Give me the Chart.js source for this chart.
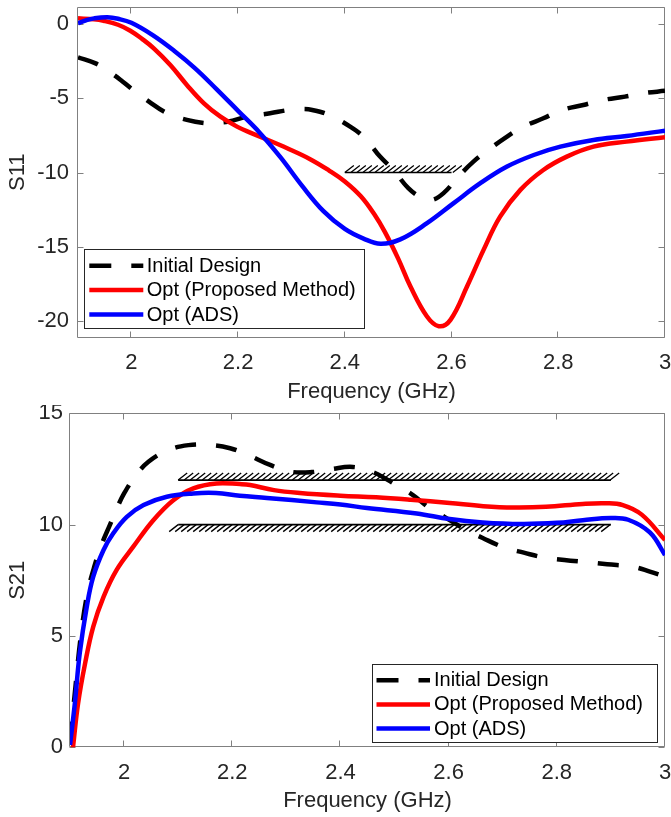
<!DOCTYPE html>
<html><head><meta charset="utf-8">
<script src="https://cdn.jsdelivr.net/npm/chart.js@4.4.1/dist/chart.umd.min.js"></script>
<style>
html,body{margin:0;padding:0;background:#fff;}
#wrap{position:relative;width:671px;height:817px;overflow:hidden;}
canvas{position:absolute;left:0;display:block;}
</style></head><body>
<div id="wrap">
<canvas id="c1" width="671" height="405" style="top:0"></canvas>
<canvas id="c2" width="671" height="412" style="top:405px"></canvas>
</div>
<script>
// ---------------- data ----------------
const legendLabels = ['Initial Design', 'Opt (Proposed Method)', 'Opt (ADS)'];
const xTicks = [2, 2.2, 2.4, 2.6, 2.8, 3];
const xTickLabels = ['2', '2.2', '2.4', '2.6', '2.8', '3'];
const s11Ticks = [0, -5, -10, -15, -20];
const s11TickLabels = ['0', '-5', '-10', '-15', '-20'];
const s21Ticks = [0, 5, 10, 15];
const s21TickLabels = ['0', '5', '10', '15'];

// S11 – Initial Design
const s11InitFreq = [1.90,1.933,1.96,1.98,2.00,2.033,2.067,2.104,2.139,2.16,2.182,2.217,2.26,2.295,2.32,2.339,2.37,2.41,2.438,2.466,2.491,2.519,2.545,2.563,2.585,2.613,2.641,2.669,2.704,2.735,2.772,2.807,2.847,2.885,2.925,2.96,3.0];
const s11Init = [-2.24,-2.65,-3.25,-3.77,-4.35,-5.23,-6.01,-6.46,-6.68,-6.65,-6.57,-6.24,-6.01,-5.79,-5.73,-5.79,-6.12,-6.91,-7.7,-8.93,-9.83,-11.05,-11.72,-11.85,-11.39,-10.27,-9.27,-8.48,-7.58,-6.91,-6.35,-5.79,-5.45,-5.11,-4.89,-4.66,-4.5];
// S11 – Opt (Proposed Method)
const s11PropFreq = [1.90,1.93,1.948,1.975,1.998,2.02,2.042,2.073,2.104,2.136,2.167,2.198,2.225,2.248,2.292,2.335,2.37,2.40,2.43,2.455,2.475,2.50,2.523,2.554,2.576,2.598,2.629,2.66,2.691,2.729,2.772,2.816,2.866,2.928,3.0];
const s11Prop = [0.38,0.32,0.22,-0.05,-0.45,-1.0,-1.64,-2.76,-4.1,-5.34,-6.24,-6.91,-7.35,-7.69,-8.37,-9.1,-9.85,-10.6,-11.6,-12.8,-14.0,-15.8,-17.68,-19.7,-20.35,-19.92,-17.68,-15.21,-12.97,-11.17,-9.83,-8.93,-8.26,-7.92,-7.63];
// S11 – Opt (ADS)
const s11AdsFreq = [1.90,1.915,1.93,1.955,1.975,2.00,2.04,2.08,2.12,2.16,2.20,2.24,2.28,2.32,2.36,2.40,2.435,2.467,2.504,2.554,2.604,2.654,2.704,2.754,2.804,2.866,2.928,3.0];
const s11Ads = [0.05,0.25,0.38,0.45,0.35,0.08,-0.75,-1.8,-3.0,-4.4,-5.85,-7.3,-9.0,-10.9,-12.6,-13.8,-14.45,-14.8,-14.5,-13.41,-12.06,-10.72,-9.6,-8.82,-8.26,-7.81,-7.54,-7.18];

// S21 – Initial Design
const s21InitFreq = [1.90,1.91,1.92,1.932,1.946,1.96,1.974,1.986,2.00,2.02,2.045,2.082,2.119,2.156,2.196,2.229,2.27,2.307,2.347,2.384,2.423,2.46,2.497,2.534,2.562,2.593,2.626,2.663,2.703,2.739,2.775,2.814,2.857,2.893,2.94,2.972,3.0];
const s21Init = [0.2,2.7,5.0,6.9,8.2,9.2,10.0,10.7,11.4,12.15,12.82,13.35,13.57,13.58,13.43,13.13,12.68,12.38,12.36,12.5,12.59,12.36,11.87,11.33,10.79,10.34,9.85,9.4,8.97,8.74,8.53,8.41,8.31,8.22,8.11,7.89,7.66];
// S21 – Opt (Proposed Method)
const s21PropFreq = [1.90,1.906,1.915,1.928,1.943,1.962,1.986,2.017,2.054,2.091,2.128,2.171,2.214,2.233,2.277,2.325,2.40,2.466,2.53,2.602,2.664,2.72,2.78,2.848,2.89,2.922,2.957,3.0];
const s21Prop = [-1.2,0.1,1.98,3.78,5.42,6.76,7.96,9.01,10.2,11.1,11.63,11.85,11.82,11.78,11.55,11.42,11.3,11.23,11.12,10.97,10.83,10.77,10.8,10.93,10.96,10.88,10.45,9.31];
// S21 – Opt (ADS)
const s21AdsFreq = [1.90,1.909,1.918,1.931,1.943,1.962,1.98,2.005,2.036,2.079,2.128,2.17,2.214,2.264,2.356,2.40,2.449,2.541,2.602,2.663,2.735,2.80,2.848,2.90,2.932,2.972,3.0];
const s21Ads = [0.1,1.98,4.22,6.31,7.66,8.86,9.61,10.35,10.88,11.25,11.4,11.42,11.3,11.2,11.0,10.9,10.75,10.5,10.25,10.1,10.03,10.08,10.2,10.3,10.22,9.65,8.64];

// Specification lines
const s11SpecFreq = [2.4, 2.6];
const s11SpecLevel = [-10, -10];
const s21UpperFreq = [2.1, 2.9];
const s21UpperLevel = [12, 12];
const s21LowerFreq = [2.1, 2.9];
const s21LowerLevel = [10, 10];

// ---------------- helpers ----------------
const FONT = '"Liberation Sans", Arial, Helvetica, sans-serif';
const zip = (xs, ys) => xs.map((x, i) => ({x, y: ys[i]}));

function curve(label, xs, ys, color, dash, order) {
  return {label, data: zip(xs, ys), borderColor: color, borderWidth: 4.5,
    borderDash: dash, pointRadius: 0, tension: 0.4,
    clip: 0, order, fill: false};
}
function spec(xs, ys, side) {
  return {label: 'spec', data: zip(xs, ys), borderColor: '#000', borderWidth: 1.6,
    pointRadius: 0, tension: 0, clip: false, order: 5, hatch: side, fill: false};
}

const hatchPlugin = {
  id: 'hatch',
  beforeDatasetsDraw(chart) {
    const ctx = chart.ctx;
    chart.data.datasets.forEach((ds, i) => {
      if (!ds.hatch) return;
      const pts = chart.getDatasetMeta(i).data;
      const x0 = pts[0].x, x1 = pts[pts.length - 1].x, y = pts[0].y;
      ctx.save();
      ctx.strokeStyle = '#000';
      ctx.lineWidth = 1.3;
      ctx.beginPath();
      const step = 6, dx = 9, dy = 7;
      for (let x = x0; x <= x1 + 2; x += step) {
        if (ds.hatch === 'above') { ctx.moveTo(x, y); ctx.lineTo(x + dx, y - dy); }
        else { ctx.moveTo(x, y); ctx.lineTo(x - dx, y + dy); }
      }
      ctx.stroke();
      ctx.restore();
    });
  }
};

const framePlugin = {
  id: 'frame',
  beforeDatasetsDraw(chart) {
    const {ctx, chartArea: a} = chart;
    const xs = chart.scales.x, ys = chart.scales.y;
    ctx.save();
    ctx.strokeStyle = '#808080';
    ctx.lineWidth = 1;
    const L = Math.round(a.left) - 0.5, R = Math.round(a.right) - 0.5;
    const T = Math.round(a.top) + 0.5, B = Math.round(a.bottom) - 0.5;
    ctx.beginPath();
    ctx.rect(L, T, R - L, B - T);
    const tl = 6;
    xs.ticks.forEach(t => {
      const px = Math.round(xs.getPixelForValue(t.value)) - 0.5;
      ctx.moveTo(px, B); ctx.lineTo(px, B - tl);
      ctx.moveTo(px, T); ctx.lineTo(px, T + tl);
    });
    ys.ticks.forEach(t => {
      const py = Math.round(ys.getPixelForValue(t.value)) + 0.5;
      ctx.moveTo(L, py); ctx.lineTo(L + tl, py);
      ctx.moveTo(R, py); ctx.lineTo(R - tl, py);
    });
    ctx.stroke();
    ctx.restore();
  }
};

const legendPlugin = {
  id: 'boxLegend',
  afterDatasetsDraw(chart, args, o) {
    const ctx = chart.ctx;
    ctx.save();
    ctx.fillStyle = '#fff';
    ctx.fillRect(o.left, o.top, o.width, o.height);
    ctx.strokeStyle = '#262626';
    ctx.lineWidth = 1;
    ctx.strokeRect(Math.round(o.left) + 0.5, Math.round(o.top) + 0.5, Math.round(o.width), Math.round(o.height));
    ctx.font = '20px ' + FONT;
    ctx.textBaseline = 'middle';
    ctx.textAlign = 'left';
    legendLabels.forEach((lab, i) => {
      const ds = chart.data.datasets[i];
      const yy = o.top + o.firstRow + i * o.rowStep;
      ctx.strokeStyle = ds.borderColor;
      ctx.lineWidth = ds.borderWidth;
      ctx.setLineDash(ds.borderDash && ds.borderDash.length ? [22, 20] : []);
      ctx.beginPath();
      ctx.moveTo(o.left + o.sampleStart, yy);
      ctx.lineTo(o.left + o.sampleStart + o.sampleLen, yy);
      ctx.stroke();
      ctx.setLineDash([]);
      ctx.fillStyle = '#000';
      ctx.fillText(lab, o.left + o.textStart, yy + 0.5);
    });
    ctx.restore();
  }
};

function makeChart(id, cfg) {
  return new Chart(document.getElementById(id), {
    type: 'line',
    data: {datasets: cfg.datasets},
    plugins: [framePlugin, hatchPlugin, legendPlugin],
    options: {
      responsive: false,
      animation: false,
      events: [],
      layout: {padding: {left: 0, right: 6, top: cfg.padTop, bottom: 0}},
      plugins: {
        legend: {display: false},
        tooltip: {enabled: false},
        boxLegend: cfg.legend
      },
      scales: {
        x: {
          type: 'linear', min: 1.9, max: 3,
          grid: {display: false, drawTicks: false},
          border: {display: false},
          afterBuildTicks: s => { s.ticks = xTicks.map(v => ({value: v})); },
          afterFit: s => { s.height = cfg.xHeight; s.paddingLeft = 0; s.paddingRight = 0; },
          ticks: {
            font: {family: FONT, size: 22}, color: '#262626', padding: 12,
            maxRotation: 0, autoSkip: false,
            callback: v => xTickLabels[xTicks.indexOf(v)]
          },
          title: {display: true, text: 'Frequency (GHz)', color: '#262626',
            font: {family: FONT, size: 22}, padding: {top: 0, bottom: cfg.xTitlePad}}
        },
        y: {
          type: 'linear', min: cfg.yMin, max: cfg.yMax,
          grid: {display: false, drawTicks: false},
          border: {display: false},
          afterBuildTicks: s => { s.ticks = cfg.yTicks.map(v => ({value: v})); },
          afterFit: s => { s.width = cfg.yWidth; s.paddingTop = 0; s.paddingBottom = 0; },
          ticks: {
            font: {family: FONT, size: 22}, color: '#262626', padding: cfg.yTickPad,
            autoSkip: false,
            callback: v => cfg.yTickLabels[cfg.yTicks.indexOf(v)]
          },
          title: {display: true, text: cfg.yTitle, color: '#262626',
            font: {family: FONT, size: 22}, padding: {top: 5, bottom: 0}}
        }
      }
    }
  });
}

// ---------------- S11 (top) ----------------
makeChart('c1', {
  datasets: [
    curve(legendLabels[0], s11InitFreq, s11Init, '#000000', [21, 20], 2),
    curve(legendLabels[1], s11PropFreq, s11Prop, '#ff0000', [], 1),
    curve(legendLabels[2], s11AdsFreq, s11Ads, '#0000ff', [], 0),
    spec(s11SpecFreq, s11SpecLevel, 'above')
  ],
  padTop: 7, xHeight: 67.5, xTitlePad: 0,
  yMin: -21.11, yMax: 1.145, yTicks: s11Ticks, yTickLabels: s11TickLabels,
  yWidth: 78, yTickPad: 9, yTitle: 'S11',
  legend: {left: 84, top: 249, width: 280, height: 79, firstRow: 16.7, rowStep: 24.4,
    sampleStart: 5.3, sampleLen: 54, textStart: 62.7}
});

// ---------------- S21 (bottom) ----------------
makeChart('c2', {
  datasets: [
    curve(legendLabels[0], s21InitFreq, s21Init, '#000000', [21, 20], 2),
    curve(legendLabels[1], s21PropFreq, s21Prop, '#ff0000', [], 1),
    curve(legendLabels[2], s21AdsFreq, s21Ads, '#0000ff', [], 0),
    spec(s21UpperFreq, s21UpperLevel, 'above'),
    spec(s21LowerFreq, s21LowerLevel, 'below')
  ],
  padTop: 8.3, xHeight: 69.7, xTitlePad: 3,
  yMin: 0, yMax: 15, yTicks: s21Ticks, yTickLabels: s21TickLabels,
  yWidth: 70, yTickPad: 7, yTitle: 'S21',
  legend: {left: 372, top: 259, width: 285, height: 78, firstRow: 16.2, rowStep: 24.2,
    sampleStart: 4.5, sampleLen: 53.5, textStart: 62}
});
</script>
</body></html>
